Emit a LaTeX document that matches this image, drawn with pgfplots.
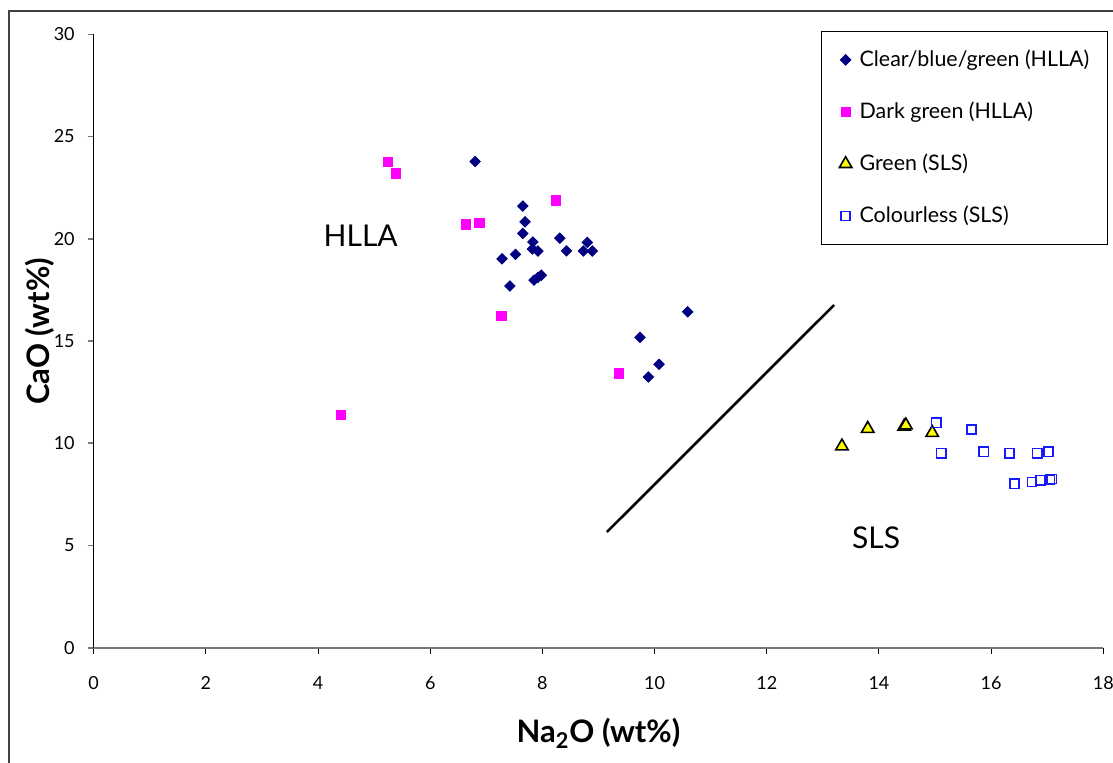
\documentclass[border=0pt]{standalone}
\usepackage{fontspec}
\setmainfont{Lato}
\usepackage{pgfplots}
\pgfplotsset{compat=1.18}
\definecolor{navyc}{RGB}{0,0,128}
\definecolor{magc}{RGB}{255,0,255}
\definecolor{yelc}{RGB}{255,255,0}
\definecolor{bluec}{RGB}{25,25,255}
\definecolor{axgrey}{RGB}{120,120,120}
\begin{document}
\begin{tikzpicture}
\useasboundingbox (-46.85pt,-57.15pt) rectangle (509.65pt,323.85pt);
\draw[line width=0.9pt, color=black!75] (-42.35pt,-70pt) -- (-42.35pt,318.35pt) -- (530pt,318.35pt);
\begin{axis}[
  at={(0pt,0pt)}, anchor=south west,
  scale only axis, width=504.8pt, height=306.7pt,
  xmin=0, xmax=18, ymin=0, ymax=30,
  axis x line*=bottom, axis y line*=left,
  x axis line style={axgrey, line width=1pt},
  y axis line style={black, line width=0.5pt},
  xtick={0,2,...,18}, ytick={0,5,...,30},
  tick align=outside, major tick length=3pt,
  xtick style={black, line width=0.5pt},
  ytick style={axgrey, line width=0.8pt},
  /pgf/number format/assume math mode=true,
  tick label style={font=\fontsize{9}{9}\selectfont},
  xticklabel style={yshift=-8pt},
  yticklabel style={xshift=-3pt},
  every axis x label/.style={at={(axis description cs:0.5,0)}, anchor=center, yshift=-42.7pt, font=\fontsize{15.5}{15.5}\selectfont\bfseries},
  every axis y label/.style={at={(axis description cs:0,0.516)}, anchor=center, xshift=-26.8pt, rotate=90, font=\fontsize{15.5}{15.5}\selectfont\bfseries},
  xlabel={Na\textsubscript{2}O (wt\%)},
  ylabel={CaO (wt\%)},
  legend image code/.code={\path[draw=none,fill=none] (-5pt,0pt) rectangle (5pt,0.1pt); \draw[#1] plot coordinates {(0pt,0pt)};},
  legend style={at={(axis description cs:0.7205,1.006)}, anchor=north west, draw=black, line width=0.5pt,
    font=\fontsize{10.7}{12}\selectfont, row sep=12.2pt, inner xsep=7pt, inner ysep=7.5pt, cells={anchor=west}},
  clip=false,
]
\addplot[only marks, mark=square*, mark size=1.85pt, color=navyc, mark options={fill=navyc, rotate=45}] coordinates {
(6.80,23.78) (7.65,21.60) (7.69,20.83) (7.65,20.26) (7.83,19.84) (7.82,19.50) (7.92,19.40)
(8.31,20.03) (8.43,19.41) (8.80,19.82) (8.73,19.40) (8.89,19.40) (7.28,19.02) (7.52,19.24)
(7.42,17.69) (7.85,17.98) (7.92,18.11) (7.98,18.22) (10.59,16.43) (9.74,15.18) (10.08,13.86) (9.89,13.24)
};
\addlegendentry{Clear/blue/green (HLLA)}
\addplot[only marks, mark=square*, mark size=2.3pt, color=magc, mark options={fill=magc}] coordinates {
(5.24,23.75) (5.39,23.20) (8.24,21.88) (6.64,20.70) (6.875,20.77) (7.27,16.23) (9.36,13.42) (4.41,11.39)
};
\addlegendentry{Dark green (HLLA)}
\addplot[only marks, mark=triangle*, mark size=3.6pt, mark options={fill=yelc, draw=black, line width=0.8pt}] coordinates {
(13.34,9.85) (13.80,10.71) (14.45,10.82) (14.48,10.88) (14.95,10.51)
};
\addlegendentry{Green (SLS)}
\addplot[only marks, mark=square, mark size=2.3pt, color=bluec, mark options={line width=0.8pt}] coordinates {
(15.02,11.00) (15.65,10.68) (15.11,9.51) (15.87,9.58) (16.33,9.51) (16.82,9.51) (17.02,9.58)
(16.42,8.02) (16.73,8.10) (16.88,8.19) (17.05,8.22) (17.08,8.25)
};
\addlegendentry{Colourless (SLS)}
\addplot[black, line width=1.3pt, no marks, forget plot] coordinates {(9.15,5.66) (13.20,16.76)};
\node[font=\fontsize{15}{15}\selectfont] at (axis cs:4.76,20.13) {HLLA};
\node[font=\fontsize{15}{15}\selectfont] at (axis cs:13.95,5.36) {SLS};
\end{axis}
\end{tikzpicture}
\end{document}
